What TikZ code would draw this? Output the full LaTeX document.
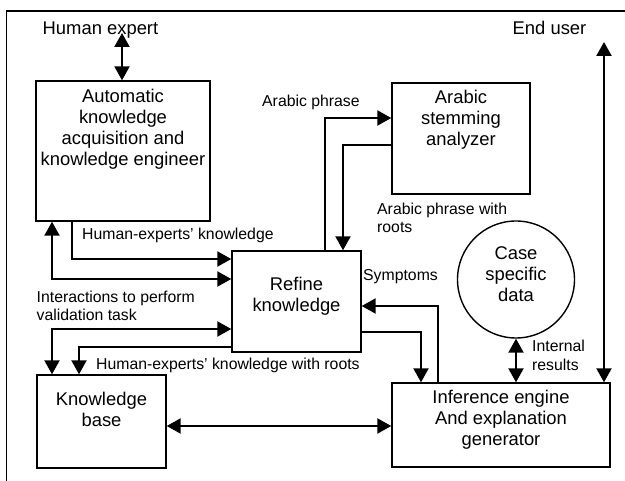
\documentclass[tikz,border=0pt]{standalone}
\usepackage{fontspec}
\setmainfont{Liberation Sans}
\usetikzlibrary{arrows.meta}
\begin{document}
\begin{tikzpicture}[x=1pt,y=-1pt,
  box/.style={draw, line width=1.4pt, rectangle, inner sep=0pt},
  big/.style={font=\fontsize{18.4}{21.2}\selectfont, align=center, inner sep=0pt, anchor=north},
  small/.style={font=\fontsize{15.8}{18.6}\selectfont, align=left, inner sep=0pt, anchor=north west},
  tip/.tip={Triangle[length=14pt,width=15pt]},
  arr/.style={line width=2.2pt, -tip},
  dbl/.style={line width=2.2pt, tip-tip},
]
\useasboundingbox (0,0) rectangle (625,481);
% outer frame
\draw[line width=1.3pt] (6.5,481) -- (6.5,11) -- (625,11);

% boxes
\node[box, minimum width=174pt, minimum height=140pt] (auto) at (123,151) {};
\node[big] (autot) at (123,88.5) {Automatic\\knowledge\\acquisition and\\knowledge engineer};

\node[box, minimum width=138pt, minimum height=111pt] (stem) at (461,138.5) {};
\node[big] (stemt) at (461,90) {Arabic\\stemming\\analyzer};

\node[box, minimum width=129pt, minimum height=101pt] (refine) at (296.5,301.5) {};
\node[big] (refinet) at (296.5,276.5) {Refine\\knowledge};

\node[box, minimum width=129pt, minimum height=93pt] (kb) at (101.5,421.5) {};
\node[big] (kbt) at (101.5,391.5) {Knowledge\\base};

\node[box, minimum width=218pt, minimum height=84pt] (inf) at (501,425) {};
\node[big] (inft) at (501,389.5) {Inference engine\\And explanation\\generator};

\node[draw, line width=1.4pt, circle, minimum size=117pt, inner sep=0pt] (case) at (516,279.5) {};
\node[big] (caset) at (516,246.5) {Case\\specific\\data};

% actors
\node[big, anchor=north west] (hexp) at (42.5,21.5) {Human expert};
\node[big, anchor=north west] (euser) at (512.5,21) {End user};
\coordinate (hexpend) at (122,33);
\coordinate (userend) at (604,42);

% labels
\node[small] (l1) at (262,94.5) {Arabic phrase};
\node[small] (l2) at (377,202.5) {Arabic phrase with\\roots};
\node[small] (l3) at (82,228) {Human-experts’ knowledge};
\node[small] (l4) at (363,269.5) {Symptoms};
\node[small] (l5) at (36.5,290.5) {Interactions to perform\\validation task};
\node[small] (l6) at (96,357.5) {Human-experts’ knowledge with roots};
\node[small] (l7) at (532,340) {Internal\\results};

% connectors
\draw[dbl] (hexpend) -- (hexpend |- auto.north);
\draw[dbl] (userend) -- (userend |- inf.north);
\draw[arr] (refine.north -| 325,0) |- (stem.west |- 0,118);
\draw[arr] (stem.west |- 0,145) -| (refine.north -| 343,0);
\draw[arr] (auto.south -| 72,0) |- (refine.west |- 0,259);
\draw[dbl] (auto.south -| 52,0) |- (refine.west |- 0,279);
\draw[dbl] (refine.west |- 0,329) -| (kb.north -| 52,0);
\draw[arr] (refine.west |- 0,347) -| (kb.north -| 79,0);
\draw[dbl] (kb.east |- 0,426) -- (inf.west |- 0,426);
\draw[arr] (refine.east |- 0,332) -| (inf.north -| 421,0);
\draw[arr] (inf.north -| 438,0) |- (refine.east |- 0,306);
\draw[dbl] (case.south) -- (case.south |- inf.north);
\end{tikzpicture}
\end{document}
